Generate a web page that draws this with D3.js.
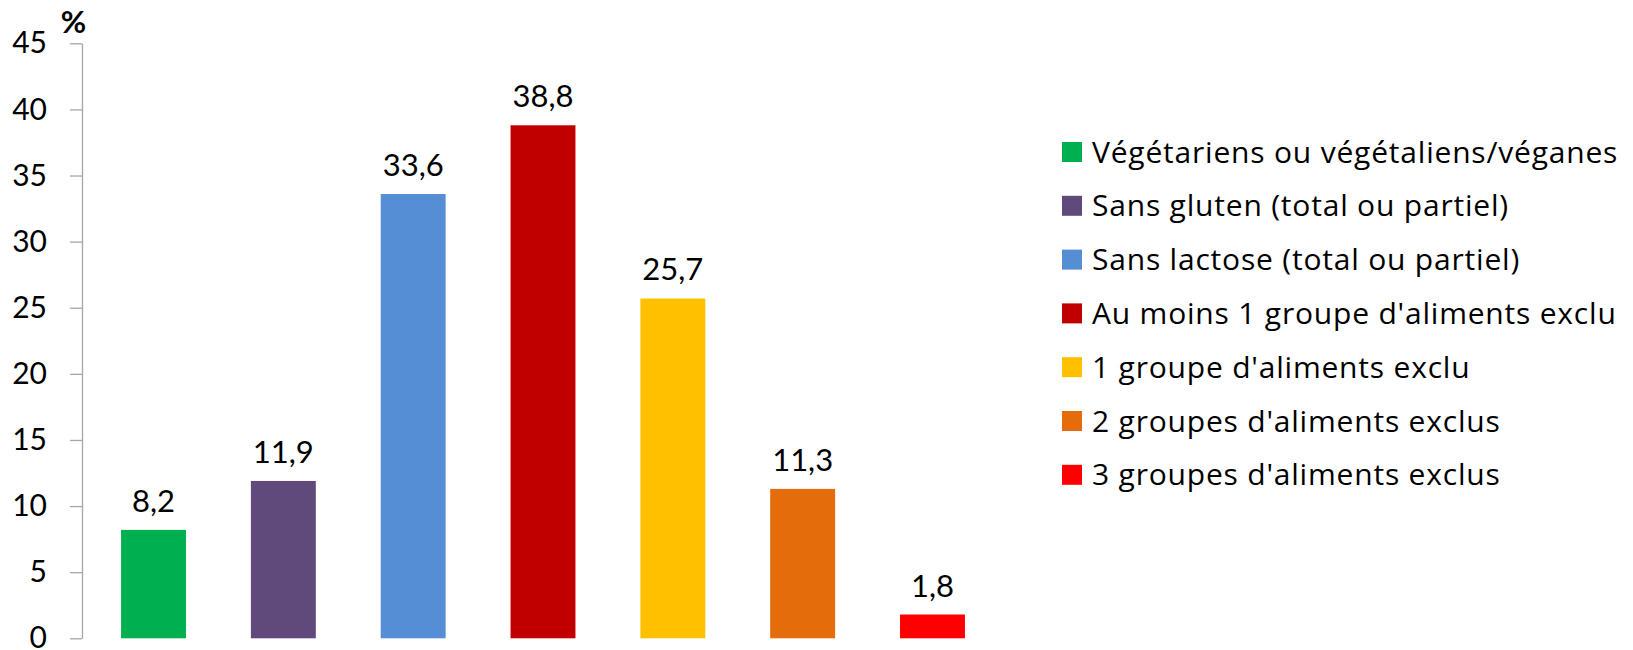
<!DOCTYPE html>
<html>
<head>
<meta charset="utf-8">
<script src="https://cdn.jsdelivr.net/npm/d3@7"></script>
<style>
  html, body { margin: 0; padding: 0; background: #fff; }
  svg { display: block; font-family: Lato, "Open Sans", sans-serif; }
</style>
</head>
<body>
<svg id="chart" width="1633" height="650"></svg>
<script>
const categories = [
  "Végétariens ou végétaliens/véganes",
  "Sans gluten (total ou partiel)",
  "Sans lactose (total ou partiel)",
  "Au moins 1 groupe d'aliments exclu",
  "1 groupe d'aliments exclu",
  "2 groupes d'aliments exclus",
  "3 groupes d'aliments exclus"
];
const values = [8.2, 11.9, 33.6, 38.8, 25.7, 11.3, 1.8];
const colors = ["#00B050", "#604A7B", "#558ED5", "#C00000", "#FFC000", "#E46C0A", "#FF0000"];
const yTicks = [0, 5, 10, 15, 20, 25, 30, 35, 40, 45];
const unitLabel = "%";

const svg = d3.select("#chart");

const x = d3.scaleBand()
  .domain(categories)
  .range([88.6, 997.4])
  .paddingInner(0.5)
  .paddingOuter(0.25);

const y = d3.scaleLinear().domain([0, 45]).range([638.3, 43.3]);

const fmt = v => String(v).replace(".", ",");

// Y axis
const yAxis = d3.axisLeft(y).tickValues(yTicks).tickSize(12).tickSizeOuter(0).tickPadding(23).tickFormat(d3.format("d"));
const gy = svg.append("g").attr("transform", "translate(82,0)").call(yAxis);
gy.select(".domain").attr("stroke", "#a6a6a6").attr("stroke-width", 1.3);
gy.selectAll(".tick line").attr("stroke", "#a6a6a6").attr("stroke-width", 1.3);
gy.selectAll(".tick text").attr("font-size", 30).attr("fill", "#000").attr("font-family", "Lato, sans-serif");

svg.append("text")
  .attr("x", 73.5).attr("y", 33)
  .attr("text-anchor", "middle")
  .attr("font-size", 31).attr("font-weight", "bold")
  .text(unitLabel);

// Bars
svg.append("g").selectAll("rect")
  .data(categories)
  .join("rect")
  .attr("x", d => x(d))
  .attr("width", x.bandwidth())
  .attr("y", (d, i) => y(values[i]))
  .attr("height", (d, i) => y(0) - y(values[i]))
  .attr("fill", (d, i) => colors[i]);

// Value labels
svg.append("g").selectAll("text")
  .data(categories)
  .join("text")
  .attr("x", d => x(d) + x.bandwidth() / 2)
  .attr("y", (d, i) => y(values[i]) - 18)
  .attr("text-anchor", "middle")
  .attr("font-size", 31)
  .attr("fill", "#000")
  .text((d, i) => fmt(values[i]));

// Legend
const legendY = d3.scalePoint().domain(categories).range([152, 474.8]);
const lg = svg.append("g").selectAll("g")
  .data(categories)
  .join("g")
  .attr("transform", d => `translate(1062,${legendY(d)})`);
lg.append("rect").attr("x", 0).attr("y", -10).attr("width", 20).attr("height", 20)
  .attr("fill", (d, i) => colors[i]);
lg.append("text").attr("x", 30).attr("y", 0).attr("dy", "0.35em")
  .attr("font-size", 30).attr("fill", "#000")
  .attr("font-family", "'Open Sans', sans-serif")
  .attr("letter-spacing", 0.8)
  .text(d => d);
</script>
</body>
</html>
